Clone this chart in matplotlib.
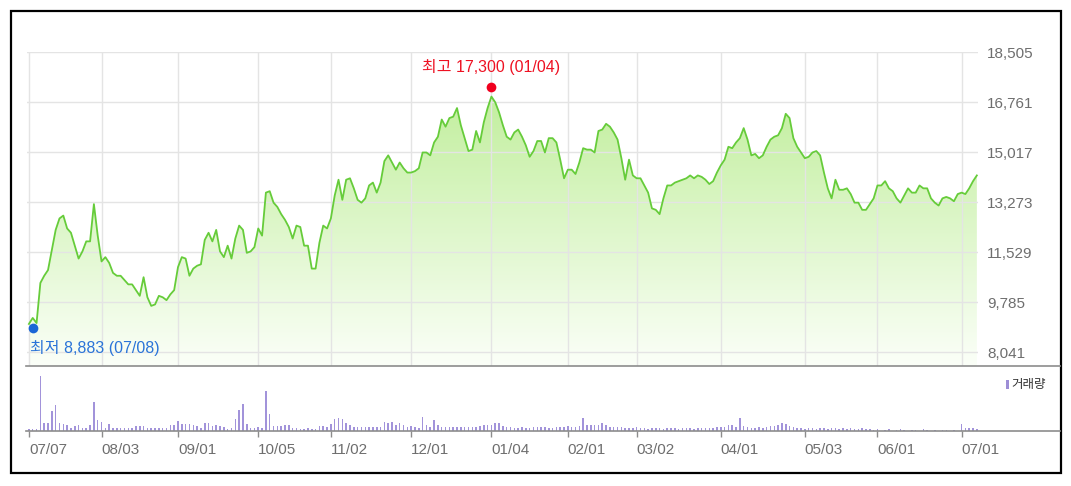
import numpy as np
import matplotlib
matplotlib.use("Agg")
import matplotlib.pyplot as plt
from matplotlib.colors import LinearSegmentedColormap
from matplotlib.patches import Rectangle
from matplotlib.lines import Line2D

plt.rcParams['font.family'] = ['Liberation Sans', 'Noto Sans CJK KR', 'DejaVu Sans']

# 종가, 2020/07/07 ~ 2021/07/07 거래일 순서
close = [
    9020, 9230, 9050, 10450, 10700, 10900, 11600, 12300, 12700, 12800,
    12350, 12200, 11750, 11300, 11550, 11900, 11900, 13200, 12100, 11200,
    11350, 11150, 10800, 10700, 10700, 10550, 10400, 10400, 10200, 10000,
    10650, 9950, 9650, 9700, 10000, 9950, 9850, 10050, 10200, 11000,
    11350, 11300, 10700, 10950, 11050, 11100, 11950, 12200, 11900, 12300,
    11550, 11350, 11750, 11300, 12000, 12450, 12300, 11500, 11550, 11700,
    12350, 12100, 13600, 13650, 13250, 13100, 12850, 12650, 12400, 12000,
    12450, 12400, 11750, 11750, 10950, 10950, 11850, 12450, 12350, 12700,
    13500, 14050, 13350, 14050, 14100, 13750, 13350, 13250, 13400, 13850,
    13950, 13600, 13950, 14700, 14900, 14650, 14400, 14650, 14450, 14300,
    14300, 14350, 14450, 15000, 15000, 14900, 15350, 15550, 16150, 15900,
    16200, 16250, 16550, 15950, 15500, 15050, 15100, 15750, 15350, 16050,
    16550, 16950, 16750, 16400, 15950, 15550, 15450, 15700, 15800, 15550,
    15250, 14850, 15050, 15400, 15400, 15000, 15500, 15500, 15350, 14750,
    14100, 14400, 14400, 14250, 14650, 15150, 15100, 15100, 15000, 15750,
    15800, 16000, 15900, 15700, 15450, 14800, 14050, 14750, 14200, 14100,
    14100, 13850, 13600, 13050, 13000, 12850, 13400, 13850, 13850, 13950,
    14000, 14050, 14100, 14200, 14100, 14200, 14150, 14050, 13900, 14000,
    14300, 14550, 14750, 15200, 15150, 15350, 15500, 15850, 15450, 14900,
    14950, 14800, 14900, 15200, 15450, 15550, 15600, 15850, 16350, 16200,
    15500, 15200, 15000, 14800, 14850, 15000, 15050, 14900, 14300, 13750,
    13400, 14050, 13700, 13700, 13750, 13550, 13250, 13250, 13000, 13000,
    13200, 13400, 13850, 13850, 14000, 13750, 13650, 13400, 13250, 13500,
    13750, 13600, 13600, 13850, 13750, 13750, 13400, 13250, 13150, 13400,
    13450, 13400, 13300, 13550, 13600, 13550, 13750, 14000, 14200,
]

# 거래량 (10만주)
volume = [
    2, 2, 2, 55, 8, 8, 20, 26, 8, 7,
    6, 3, 5, 6, 3, 3, 6, 29, 11, 9,
    3, 7, 3, 3, 3, 3, 3, 3, 5, 5,
    5, 3, 3, 3, 3, 3, 3, 6, 6, 10,
    7, 7, 7, 6, 5, 3, 8, 8, 5, 6,
    5, 4, 2, 3, 12, 21, 27, 7, 3, 3,
    4, 3, 40, 17, 5, 5, 5, 6, 6, 3,
    3, 2, 2, 3, 2, 2, 5, 5, 4, 7,
    12, 13, 12, 8, 6, 4, 4, 4, 4, 4,
    4, 4, 4, 9, 8, 9, 6, 8, 6, 4,
    5, 4, 3, 14, 6, 4, 11, 6, 4, 4,
    4, 4, 4, 4, 4, 4, 4, 4, 5, 6,
    6, 6, 8, 8, 5, 4, 4, 3, 3, 4,
    3, 3, 4, 4, 4, 4, 3, 3, 4, 4,
    4, 5, 4, 4, 5, 13, 6, 6, 6, 6,
    8, 6, 4, 4, 4, 4, 3, 3, 3, 4,
    3, 3, 2, 3, 3, 3, 2, 3, 3, 3,
    2, 3, 3, 3, 2, 3, 3, 3, 3, 3,
    4, 4, 4, 6, 6, 4, 13, 5, 4, 3,
    3, 4, 3, 4, 5, 5, 6, 8, 7, 5,
    4, 3, 3, 2, 3, 3, 2, 3, 3, 2,
    3, 3, 2, 3, 2, 3, 2, 2, 3, 2,
    2, 1, 2, 0, 1, 2, 0, 1, 2, 1,
    0, 1, 1, 0, 2, 1, 0, 1, 0, 1,
    1, 0, 1, 0, 7, 3, 3, 3, 2,
]

tick_idx = [0, 19, 39, 60, 79, 100, 121, 141, 159, 181, 203, 222, 244]
tick_labels = ["07/07", "08/03", "09/01", "10/05", "11/02", "12/01", "01/04",
               "02/01", "03/02", "04/01", "05/03", "06/01", "07/01"]
price_ticks = [8041, 9785, 11529, 13273, 15017, 16761, 18505]

high_idx, high_val, high_date = 121, 17300, "01/04"
low_idx, low_val, low_date = 1, 8883, "07/08"

W, H = 1071, 486
fig = plt.figure(figsize=(W / 100, H / 100), dpi=100)

def box(x0, y0, x1, y1):
    # 픽셀 (위 기준) -> figure 좌표
    return [x0 / W, 1 - y1 / H, (x1 - x0) / W, (y1 - y0) / H]

x = np.arange(len(close))
xlim = (-0.5, 248.3)
ylim = (7553, 18505)

# 주가 영역
ax = fig.add_axes(box(27, 52, 978, 366))
cmap = LinearSegmentedColormap.from_list("fill", ["#fbfff8", "#b9ec90"])
grad = np.linspace(0, 1, 256).reshape(-1, 1)
im = ax.imshow(grad, extent=[xlim[0], xlim[1], ylim[0], ylim[1]], origin="lower",
               aspect="auto", cmap=cmap, zorder=1)
poly = ax.fill_between(x, close, ylim[0], facecolor="none", edgecolor="none")
im.set_clip_path(poly.get_paths()[0], transform=ax.transData)
ax.plot(x, close, color="#66cc3a", lw=1.3, zorder=3)

ax.set_xlim(xlim)
ax.set_ylim(ylim)
ax.set_axisbelow(False)
ax.grid(True, color="#e4e4e4", lw=1)
ax.set_xticks(tick_idx)
ax.set_xticklabels([])
ax.yaxis.tick_right()
ax.set_yticks(price_ticks)
ax.set_yticklabels([f"{v:,}" for v in price_ticks])
ax.tick_params(axis="both", length=0)
ax.tick_params(axis="y", pad=6.5, labelsize=11, labelcolor="#6e6e6e")
for s in ax.spines.values():
    s.set_visible(False)

# 최고 / 최저
ax.plot(high_idx, high_val, "o", color="#f0001e", ms=7, mec="none", zorder=5, clip_on=False)
ax.annotate(f"최고 {high_val:,} ({high_date})", (high_idx, high_val), xytext=(0, 14),
            textcoords="offset points", ha="center", va="center",
            color="#ee1122", fontsize=11.5)
ax.plot(low_idx, low_val, "o", color="#1a66d6", ms=7, mec="none", zorder=5, clip_on=False)
ax.annotate(f"최저 {low_val:,} ({low_date})", (low_idx, low_val), xytext=(-2, -14.5),
            textcoords="offset points", ha="left", va="center",
            color="#2a74d8", fontsize=11.5)

# 거래량 영역
axv = fig.add_axes(box(27, 366, 978, 431))
axv.bar(x, volume, width=0.4, color="#a293da", zorder=2)
axv.set_xlim(xlim)
axv.set_ylim(0, max(volume) * 65 / 55)
axv.set_yticks([])
axv.set_xticks(tick_idx)
axv.set_xticklabels(tick_labels)
plt.setp(axv.get_xticklabels(), ha="left")
axv.tick_params(axis="x", length=4.3, width=1, color="#8c8c8c", pad=4,
                labelsize=11, labelcolor="#6e6e6e")
for s in axv.spines.values():
    s.set_visible(False)

# 구분선, 기준선
for yy in (366, 431):
    fig.add_artist(Line2D([26 / W, 1060 / W], [1 - yy / H, 1 - yy / H],
                          color="#8c8c8c", lw=1.2))

# 거래량 범례
fig.add_artist(Rectangle((1006 / W, 1 - 389 / H), 3 / W, 9 / H, color="#9d8ed6", lw=0))
fig.text(1011 / W, 1 - 385 / H, "거래량", ha="left", va="center", fontsize=9, color="#333333")

# 바깥 테두리
fig.add_artist(Rectangle((10.5 / W, 1 - 473 / H), 1050.5 / W, 462 / H,
                         fill=False, ec="black", lw=1.6))

fig.savefig("out.png", dpi=100)
